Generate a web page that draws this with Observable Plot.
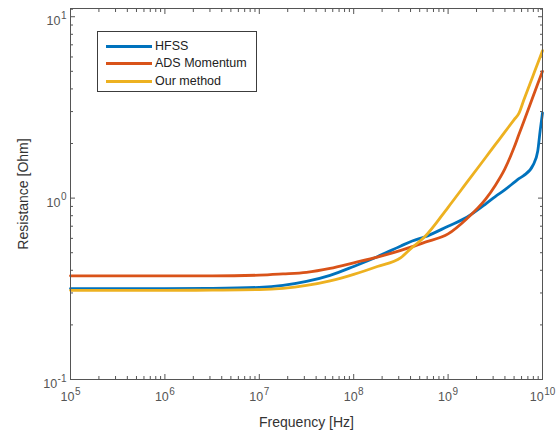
<!DOCTYPE html>
<html>
<head>
<meta charset="utf-8">
<script src="https://cdn.jsdelivr.net/npm/d3@7"></script>
<script src="https://cdn.jsdelivr.net/npm/@observablehq/plot@0.6"></script>
<style>
  body { margin: 0; background: #fff; }
  #wrap { position: relative; width: 557px; height: 433px; font-family: "Liberation Sans", Arial, sans-serif; }
  .legend { position: absolute; left: 97px; top: 31px; width: 160px; height: 61px; border: 1px solid #3c3c3c; background: #fff; box-sizing: border-box; }
  .legend .row { position: absolute; left: 0; height: 18px; display: flex; align-items: center; font-size: 12.5px; color: #222; white-space: nowrap; }
  .legend .sw { display: inline-block; width: 46px; height: 3px; margin-left: 8px; margin-right: 3px; }
</style>
</head>
<body>
<div id="wrap"></div>
<script>
// Frequency samples [Hz]
const freqHz = [1e5, 1e6, 3.16e6, 1e7, 1.78e7, 3.16e7, 5.62e7, 1e8, 1.78e8, 3.16e8, 4.17e8, 5.62e8,
                1e9, 1.58e9, 2.51e9, 3.16e9, 3.98e9, 5.01e9, 5.62e9, 6.31e9, 7.94e9, 8.91e9, 9.44e9, 1e10];
// Resistance [Ohm] per series
const hfss = [0.317, 0.317, 0.318, 0.322, 0.33, 0.347, 0.375, 0.42, 0.475, 0.545, 0.58, 0.61,
              0.70, 0.785, 0.93, 1.02, 1.11, 1.22, 1.28, 1.33, 1.52, 1.82, 2.35, 2.95];
const ads = [0.373, 0.373, 0.373, 0.376, 0.382, 0.39, 0.41, 0.44, 0.473, 0.515, 0.54, 0.57,
             0.635, 0.77, 0.99, 1.175, 1.445, 1.905, 2.24, 2.63, 3.63, 4.27, 4.62, 5.0];
const ours = [0.31, 0.31, 0.311, 0.313, 0.318, 0.33, 0.35, 0.38, 0.42, 0.47, 0.535, 0.61,
              0.89, 1.22, 1.68, 1.97, 2.31, 2.71, 2.93, 3.45, 4.73, 5.54, 6.0, 6.5];
const seriesNames = ["HFSS", "ADS Momentum", "Our method"];
const seriesColors = ["#0072BD", "#D95319", "#EDB120"];
const xTickExponents = [5, 6, 7, 8, 9, 10];
const yTickExponents = [-1, 0, 1];
const xLabel = "Frequency [Hz]";
const yLabel = "Resistance [Ohm]";

const seriesValues = [hfss, ads, ours];
const data = seriesNames.flatMap((name, k) => freqHz.map((f, i) => ({f, r: seriesValues[k][i], name})));

const xMajor = xTickExponents.map(e => Math.pow(10, e));
const yMajor = yTickExponents.map(e => Math.pow(10, e));
const minorOf = exps => exps.slice(0, -1).flatMap(e => d3.range(2, 10).map(m => m * Math.pow(10, e)));
const xMinor = minorOf(xTickExponents);
const yMinor = minorOf(yTickExponents).concat([11]);
const fmt = d => "10^" + Math.round(Math.log10(d));
const none = () => "";
const axisColor = "#555";

const chart = Plot.plot({
  width: 557, height: 433,
  marginLeft: 70, marginRight: 15, marginTop: 8, marginBottom: 54,
  style: {fontFamily: "'Liberation Sans', Arial, sans-serif", fontSize: "12px", color: "#4a4a4a", background: "#fff"},
  x: {type: "log", domain: [1e5, 1e10]},
  y: {type: "log", domain: [0.1, 11.1]},
  color: {domain: seriesNames, range: seriesColors},
  marks: [
    Plot.axisX(xMinor, {anchor: "bottom", tickSize: -3, tickFormat: none, label: null, color: axisColor}),
    Plot.axisX(xMinor, {anchor: "top", tickSize: -3, tickFormat: none, label: null, color: axisColor}),
    Plot.axisX(xMajor, {anchor: "top", tickSize: -5, tickFormat: none, label: null, color: axisColor}),
    Plot.axisX(xMajor, {anchor: "bottom", tickSize: -5, tickPadding: 18, tickFormat: fmt, color: axisColor, fontSize: 12.5,
      label: xLabel, labelAnchor: "center", labelOffset: 47, labelArrow: "none"}),
    Plot.axisY(yMinor.filter(v => v <= 11.1), {anchor: "left", tickSize: -3, tickFormat: none, label: null, color: axisColor}),
    Plot.axisY(yMinor.filter(v => v <= 11.1), {anchor: "right", tickSize: -3, tickFormat: none, label: null, color: axisColor}),
    Plot.axisY(yMajor, {anchor: "right", tickSize: -5, tickFormat: none, label: null, color: axisColor}),
    Plot.axisY(yMajor, {anchor: "left", tickSize: -5, tickPadding: 9, tickFormat: fmt, color: axisColor, fontSize: 12.5,
      label: yLabel, labelAnchor: "center", labelOffset: 52, labelArrow: "none"}),
    Plot.line(data, {x: "f", y: "r", z: "name", stroke: "name", strokeWidth: 2.8, curve: "monotone-x"}),
    Plot.frame({stroke: axisColor, strokeWidth: 1})
  ]
});

const svg = chart.tagName.toLowerCase() === "svg" ? chart : chart.querySelector("svg");
d3.select(svg).selectAll("text").each(function () {
  const m = /^10\^(-?\d+)$/.exec(this.textContent);
  if (!m) return;
  const g = this.closest("g[aria-label]");
  const isY = g && /y-axis/.test(g.getAttribute("aria-label"));
  this.textContent = "";
  const sel = d3.select(this).attr("font-size", "12.5px").style("font-size", "12.5px");
  sel.append("tspan").attr("dy", isY ? 4.5 : 0).text("10");
  sel.append("tspan").attr("dy", -6.5).attr("dx", 0.5).style("font-size", "10px").text(m[1]);
});
d3.select(svg).selectAll("g[aria-label$='axis label'] text, g[aria-label$='axis label']")
  .attr("font-size", "14px").style("font-size", "14px").attr("fill", "#333");

const wrap = document.getElementById("wrap");
wrap.appendChild(chart);

const legend = document.createElement("div");
legend.className = "legend";
const rowTops = [5, 22, 40];
seriesNames.forEach((name, i) => {
  const row = document.createElement("div");
  row.className = "row";
  row.style.top = rowTops[i] + "px";
  const sw = document.createElement("span");
  sw.className = "sw";
  sw.style.background = seriesColors[i];
  const tx = document.createElement("span");
  tx.textContent = name;
  row.appendChild(sw);
  row.appendChild(tx);
  legend.appendChild(row);
});
wrap.appendChild(legend);
</script>
</body>
</html>
